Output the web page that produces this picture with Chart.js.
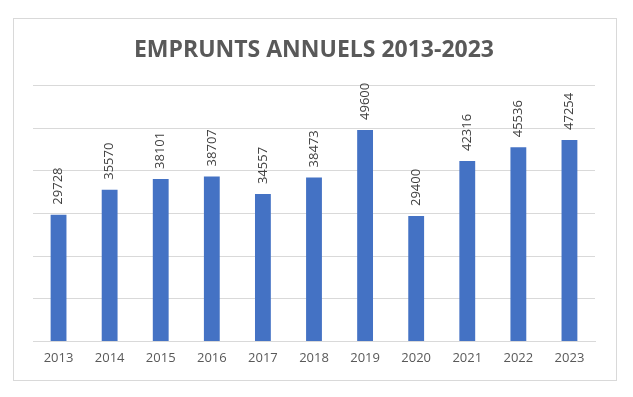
<!DOCTYPE html>
<html>
<head>
<meta charset="utf-8">
<script src="https://cdn.jsdelivr.net/npm/chart.js@4"></script>
<style>
  html, body { margin: 0; padding: 0; background: #fff; }
  #wrap { position: relative; width: 633px; height: 397px; }
</style>
</head>
<body>
<div id="wrap"><canvas id="empruntsChart" width="633" height="397"></canvas></div>
<script>
var years = ['2013', '2014', '2015', '2016', '2017', '2018', '2019', '2020', '2021', '2022', '2023'];
var amounts = [29728, 35570, 38101, 38707, 34557, 38473, 49600, 29400, 42316, 45536, 47254];
var chartTitle = 'EMPRUNTS ANNUELS 2013-2023';

// frame around the chart, like the spreadsheet chart border
var framePlugin = {
  id: 'frame',
  beforeDraw: function(chart) {
    var ctx = chart.ctx;
    ctx.save();
    ctx.fillStyle = '#ffffff';
    ctx.fillRect(0, 0, chart.width, chart.height);
    ctx.strokeStyle = '#d9d9d9';
    ctx.lineWidth = 1;
    ctx.strokeRect(13.5, 18.5, 603, 362);
    ctx.restore();
  }
};

// values written vertically above each bar
var valueLabels = {
  id: 'valueLabels',
  afterDatasetsDraw: function(chart) {
    var ctx = chart.ctx;
    var meta = chart.getDatasetMeta(0);
    ctx.save();
    ctx.font = '13px "Open Sans"';
    ctx.fillStyle = '#404040';
    ctx.textAlign = 'left';
    ctx.textBaseline = 'middle';
    meta.data.forEach(function(bar, i) {
      ctx.save();
      ctx.translate(bar.x, bar.y - 10);
      ctx.rotate(-Math.PI / 2);
      ctx.fillText(String(amounts[i]), 0, 0);
      ctx.restore();
    });
    ctx.restore();
  }
};

var ctx = document.getElementById('empruntsChart').getContext('2d');
var chart = new Chart(ctx, {
  type: 'bar',
  data: {
    labels: years,
    datasets: [{
      label: 'Emprunts',
      data: amounts,
      backgroundColor: '#4472C4',
      borderWidth: 0,
      barPercentage: 0.31,
      categoryPercentage: 1.0
    }]
  },
  options: {
    responsive: false,
    animation: false,
    layout: { padding: { left: 33, right: 38, top: 24, bottom: 22 } },
    plugins: {
      legend: { display: false },
      tooltip: { enabled: false },
      title: {
        display: true,
        text: chartTitle,
        color: '#595959',
        font: { family: '"Open Sans"', size: 23, weight: 'bold' },
        padding: { top: 13, bottom: 21 }
      }
    },
    scales: {
      x: {
        grid: { display: false, drawTicks: false },
        border: { display: true, color: '#d9d9d9' },
        ticks: { color: '#595959', font: { family: '"Open Sans"', size: 13 }, padding: 9 }
      },
      y: {
        min: 0,
        max: 60000,
        ticks: { display: false, stepSize: 10000 },
        grid: { color: '#d9d9d9', drawTicks: false },
        border: { display: false }
      }
    }
  },
  plugins: [framePlugin, valueLabels]
});
</script>
</body>
</html>
